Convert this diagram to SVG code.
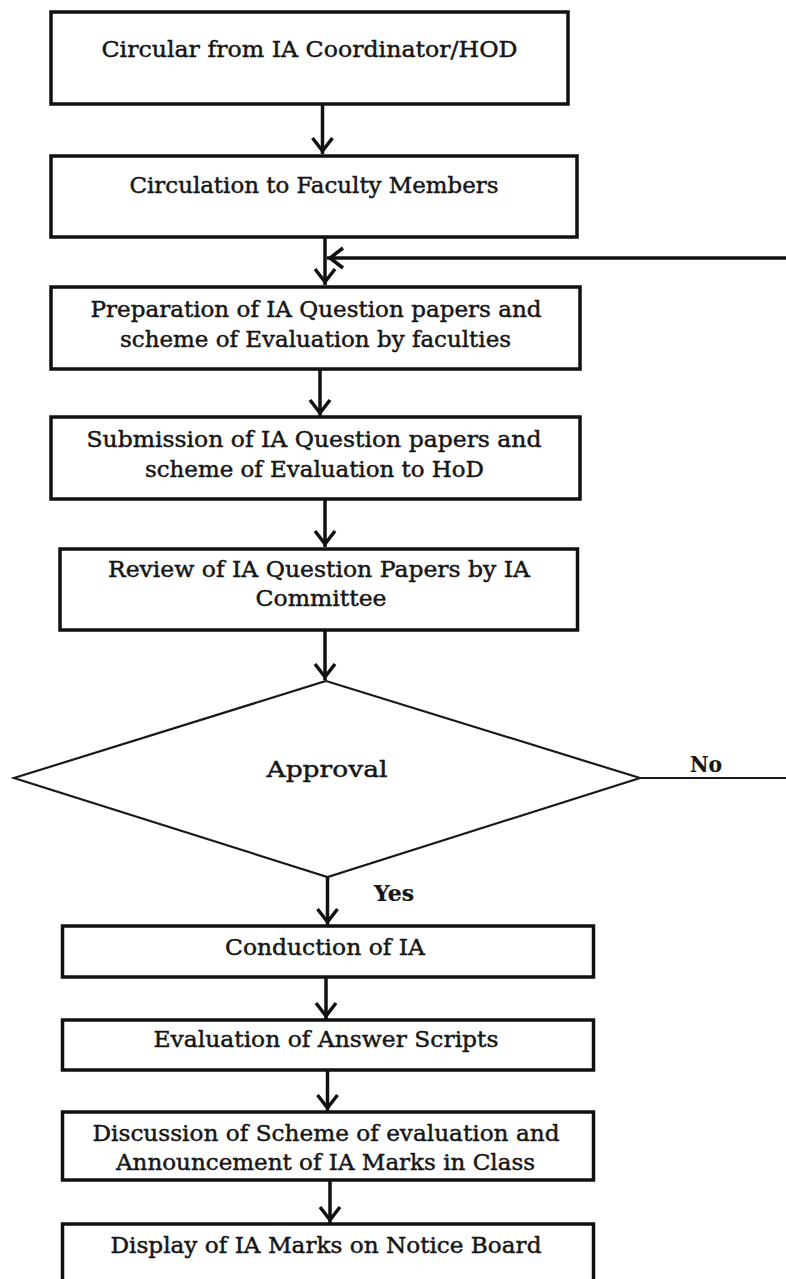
<svg xmlns="http://www.w3.org/2000/svg" width="786" height="1279" viewBox="0 0 786 1279">
  <style>
    .box { fill: #ffffff; stroke: #111111; stroke-width: 3.5; }
    .dia { fill: #ffffff; stroke: #1a1a1a; stroke-width: 2.2; }
    .lbl { font-family: "DejaVu Serif", "Liberation Serif", serif; font-size: 21.5px; fill: #161616; stroke: #161616; stroke-width: 0.45; text-anchor: middle; }
    .bold { font-weight: bold; stroke-width: 0.2; }
    .flow { fill: none; stroke: #111111; stroke-width: 3.5; }
    .thin { fill: none; stroke: #1a1a1a; stroke-width: 2.2; }
  </style>
  <defs>
    <marker id="arrow" markerUnits="userSpaceOnUse" markerWidth="30" markerHeight="30" viewBox="-20 -15 30 30" refX="0" refY="0" orient="auto">
      <path d="M -16 -10 L -3 0 L -16 10" fill="none" stroke="#111111" stroke-width="3.5"/>
    </marker>
  </defs>

  <rect width="786" height="1279" fill="#ffffff"/>

  <!-- connectors -->
  <g id="connectors">
    <line class="flow" x1="322.5" y1="104" x2="322.5" y2="154" marker-end="url(#arrow)"/>
    <line class="flow" x1="325" y1="237" x2="325" y2="285" marker-end="url(#arrow)"/>
    <line class="flow" x1="786" y1="258" x2="327" y2="258" stroke-width="4" marker-end="url(#arrow)"/>
    <line class="flow" x1="320" y1="369" x2="320" y2="416" marker-end="url(#arrow)"/>
    <line class="flow" x1="325" y1="499" x2="325" y2="547" marker-end="url(#arrow)"/>
    <line class="flow" x1="325" y1="630" x2="325" y2="680" marker-end="url(#arrow)"/>
    <line class="flow" x1="327.5" y1="877" x2="327.5" y2="925" marker-end="url(#arrow)"/>
    <line class="flow" x1="326" y1="977" x2="326" y2="1019" marker-end="url(#arrow)"/>
    <line class="flow" x1="327.5" y1="1070" x2="327.5" y2="1111" marker-end="url(#arrow)"/>
    <line class="flow" x1="330" y1="1180" x2="330" y2="1223" marker-end="url(#arrow)"/>
    <line class="thin" x1="640" y1="778" x2="786" y2="778"/>
    <text class="lbl bold" x="706" y="772" textLength="32" lengthAdjust="spacingAndGlyphs">No</text>
    <text class="lbl bold" x="394" y="901" textLength="40" lengthAdjust="spacingAndGlyphs">Yes</text>
  </g>

  <g id="circular">
    <rect class="box" x="51" y="12" width="517" height="92"/>
    <text class="lbl" x="309.5" y="57" textLength="416" lengthAdjust="spacingAndGlyphs">Circular from IA Coordinator/HOD</text>
  </g>

  <g id="circulation">
    <rect class="box" x="51" y="156" width="526" height="81"/>
    <text class="lbl" x="314" y="193" textLength="369" lengthAdjust="spacingAndGlyphs">Circulation to Faculty Members</text>
  </g>

  <g id="preparation">
    <rect class="box" x="51" y="287" width="529" height="82"/>
    <text class="lbl" x="316" y="317" textLength="451" lengthAdjust="spacingAndGlyphs">Preparation of IA Question papers and</text>
    <text class="lbl" x="315.5" y="347" textLength="391" lengthAdjust="spacingAndGlyphs">scheme of Evaluation by faculties</text>
  </g>

  <g id="submission">
    <rect class="box" x="51" y="417" width="529" height="82"/>
    <text class="lbl" x="314" y="447" textLength="455" lengthAdjust="spacingAndGlyphs">Submission of IA Question papers and</text>
    <text class="lbl" x="314.5" y="477" textLength="339" lengthAdjust="spacingAndGlyphs">scheme of Evaluation to HoD</text>
  </g>

  <g id="review">
    <rect class="box" x="60" y="549" width="517.5" height="81"/>
    <text class="lbl" x="319" y="577" textLength="422" lengthAdjust="spacingAndGlyphs">Review of IA Question Papers by IA</text>
    <text class="lbl" x="321" y="606" textLength="131" lengthAdjust="spacingAndGlyphs">Committee</text>
  </g>

  <g id="approval">
    <polygon class="dia" points="326,681 640,778 327.5,877 14,778"/>
    <text class="lbl" x="327" y="777" textLength="121" lengthAdjust="spacingAndGlyphs">Approval</text>
  </g>

  <g id="conduction">
    <rect class="box" x="62.5" y="926" width="531" height="51"/>
    <text class="lbl" x="325" y="955" textLength="200" lengthAdjust="spacingAndGlyphs">Conduction of IA</text>
  </g>

  <g id="evaluation">
    <rect class="box" x="62.5" y="1020" width="531" height="50"/>
    <text class="lbl" x="326" y="1047" textLength="345" lengthAdjust="spacingAndGlyphs">Evaluation of Answer Scripts</text>
  </g>

  <g id="discussion">
    <rect class="box" x="62.5" y="1112" width="531" height="68"/>
    <text class="lbl" x="326" y="1141" textLength="467" lengthAdjust="spacingAndGlyphs">Discussion of Scheme of evaluation and</text>
    <text class="lbl" x="325.5" y="1170" textLength="419" lengthAdjust="spacingAndGlyphs">Announcement of IA Marks in Class</text>
  </g>

  <g id="display">
    <rect class="box" x="62.5" y="1224" width="531" height="70"/>
    <text class="lbl" x="326" y="1253" textLength="431" lengthAdjust="spacingAndGlyphs">Display of IA Marks on Notice Board</text>
  </g>
</svg>
